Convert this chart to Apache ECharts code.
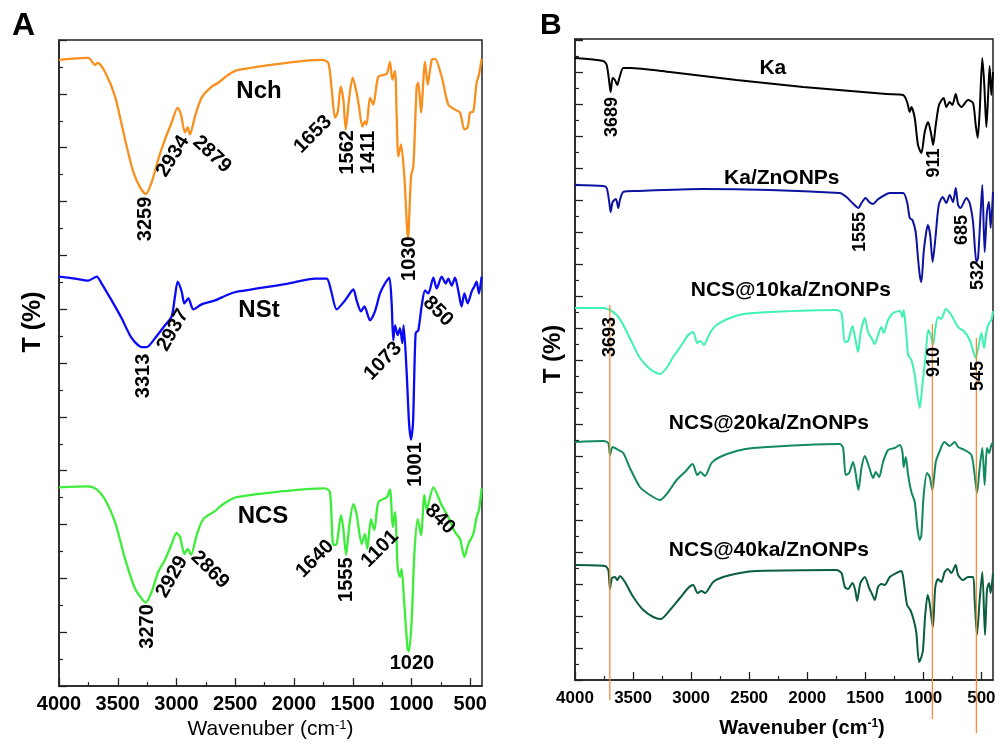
<!DOCTYPE html>
<html>
<head>
<meta charset="utf-8">
<title>FTIR spectra</title>
<script src="https://cdn.jsdelivr.net/npm/echarts@6/dist/echarts.min.js"></script>
<style>
    html, body { margin: 0; padding: 0; background: #fff; }
    #chart { width: 1000px; height: 745px; }
</style>
</head>
<body>
<div id="chart"></div>
<script>
// ---- panel A spectra (wavenumber, transmittance in stacked arbitrary units) ----
var nchWn = [4000,3750,3694,3671,3609,3523,3438,3367,3311,3262,3211,3155,3098,3041,2990,2962,2928,2905,2885,2843,2786,2701,2644,2559,2474,1765,1708,1679,1651,1628,1603,1580,1560,1532,1501,1467,1447,1418,1396,1382,1353,1325,1282,1211,1183,1163,1140,1126,1112,1089,1061,1030,1004,984,956,942,919,885,862,828,800,743,687,630,587,550,522,502,474,446,426,403];
var nchT = [630,632,625,627,618,593,550,517,502,495,507,530,550,567,582,575,557,562,555,573,592,603,607,615,620,630,627,600,572,577,603,590,560,590,612,597,583,563,568,565,592,585,613,616,628,610,619,573,533,545,513,450,513,523,603,607,577,628,605,630,631,613,585,580,577,560,562,577,578,607,615,631];

var nstWn = [4000,3864,3750,3679,3637,3552,3467,3381,3296,3254,3183,3098,3041,3013,2990,2956,2933,2899,2857,2786,2672,2559,2474,2048,1821,1722,1685,1637,1566,1495,1467,1430,1401,1353,1311,1268,1226,1189,1169,1155,1140,1117,1098,1078,1067,1041,1021,1004,987,965,942,914,885,857,814,786,743,709,687,658,630,602,574,550,522,488,465,446,426,403];
var nstT = [412,410,408,412,405,388,370,350,341,341,350,363,372,392,407,397,385,390,379,384,388,394,397,405,410,410,398,379,388,399,388,377,382,368,377,395,405,411,385,348,363,353,360,345,363,315,265,248,265,355,358,382,398,395,411,400,412,405,410,403,411,398,382,395,385,397,402,407,395,412];

var ncsWn = [4000,3750,3679,3609,3523,3438,3353,3296,3262,3211,3155,3098,3041,2999,2970,2933,2905,2877,2828,2772,2672,2616,2488,1736,1694,1665,1637,1600,1580,1557,1529,1495,1467,1424,1396,1376,1345,1316,1282,1211,1183,1160,1140,1117,1098,1084,1061,1033,1021,999,976,948,919,891,871,814,743,687,630,587,550,516,474,446,426,403];
var ncsT = [200,201,198,188,165,128,98,88,84,95,115,127,143,154,150,133,138,132,152,168,176,182,190,199,195,142,143,172,158,132,162,183,173,143,153,138,168,157,185,190,198,160,175,118,110,118,82,37,35,65,132,168,152,192,178,200,182,170,155,148,130,143,153,170,177,199];

// ---- panel B spectra ----
var kaWn = [4000,3756,3727,3705,3693,3676,3656,3636,3618,3584,3527,3182,2609,2035,1318,1174,1140,1117,1103,1074,1046,1017,988,959,931,916,893,865,825,802,773,750,721,701,672,615,572,549,532,515,492,475,457,443,429,414,400];
var kaT = [622,619,615,598,588,602,600,595,602,612,612,608,600,593,586,585,578,568,573,562,535,527,548,558,545,535,555,575,582,573,578,575,586,577,573,580,577,555,542,568,622,595,553,582,614,585,608];

var kaZnWn = [4000,3756,3727,3705,3693,3676,3647,3627,3613,3584,3469,2896,1719,1662,1610,1559,1533,1496,1467,1433,1398,1361,1289,1174,1140,1117,1094,1066,1046,1031,1017,997,975,961,941,920,896,867,833,802,773,744,721,701,680,629,601,572,543,529,509,492,472,452,435,420,400];
var kaZnT = [495,494,492,478,468,478,481,472,480,488,489,491,487,483,477,472,477,482,478,476,480,483,487,487,478,462,460,448,422,405,398,428,448,455,445,418,442,475,483,477,485,478,492,475,472,482,477,458,418,422,462,495,428,468,478,452,488];

var ncs10Wn = [4000,3756,3699,3641,3584,3512,3441,3355,3269,3211,3154,3082,3025,2982,2947,2919,2890,2838,2781,2666,2551,2322,1748,1705,1676,1648,1610,1587,1562,1539,1504,1476,1447,1419,1390,1361,1341,1304,1260,1203,1180,1169,1146,1131,1103,1074,1051,1031,1008,980,957,937,916,896,873,845,807,759,701,644,601,565,549,526,500,477,457,434,414,400];
var ncs10T = [372,372,370,365,355,338,322,311,306,312,323,335,345,348,337,339,335,347,355,362,366,368,370,367,338,339,354,342,328,348,362,348,342,336,345,353,347,360,367,369,363,370,345,325,320,305,285,272,295,325,350,345,335,352,363,361,371,365,353,348,340,327,322,333,347,332,348,357,360,369];

var ncs20Wn = [4000,3756,3713,3699,3676,3627,3584,3527,3441,3355,3269,3197,3125,3053,2987,2947,2919,2881,2824,2752,2609,2465,1719,1691,1668,1639,1605,1585,1559,1533,1504,1467,1433,1410,1381,1347,1304,1246,1203,1180,1169,1151,1131,1103,1074,1051,1031,1017,997,968,945,922,893,862,819,773,730,701,644,586,558,538,515,492,472,452,434,414,400];
var ncs20T = [238,239,237,225,233,230,227,212,193,185,180,188,200,208,216,205,208,204,217,223,229,232,236,232,205,207,218,208,190,212,224,213,202,208,203,218,230,232,235,228,213,223,205,188,178,152,140,145,185,207,203,190,218,228,238,234,238,233,230,225,205,187,212,232,195,232,227,235,238];

var ncs40Wn = [4000,3742,3713,3699,3682,3656,3636,3613,3570,3498,3412,3326,3263,3182,3096,3025,2982,2944,2910,2881,2810,2723,2580,2437,1748,1705,1676,1648,1610,1587,1570,1542,1504,1467,1438,1418,1390,1361,1332,1289,1232,1189,1174,1140,1112,1083,1060,1037,1017,1003,985,963,946,918,897,874,845,816,788,759,721,701,658,615,572,558,538,515,492,469,452,434,420,400];
var ncs40T = [115,114,110,91,102,103,100,104,98,83,70,63,61,70,82,92,95,87,89,87,98,103,107,109,110,107,93,91,97,90,79,97,103,92,85,80,93,96,95,103,107,109,103,75,70,60,47,18,23,30,63,85,77,53,93,101,98,108,111,107,115,105,100,103,103,80,45,80,108,45,90,97,87,107];

// vertical guide lines in panel B (wavenumber, top, bottom)
var guideWn = [3700, 922, 543];
var guideTop = [375, 356, 342];
var guideBottom = [-20, -39, -53];

// axis ticks
var majorTicks = [500, 1000, 1500, 2000, 2500, 3000, 3500, 4000];
var minorTicks = [750, 1250, 1750, 2250, 2750, 3250, 3750];

// annotations: [text, wavenumber, T, rotation]
var peakLabelsA = [
    ['3259', 3260, 470, 90], ['2934', 3030, 533, 58], ['2879', 2698, 535, -43],
    ['1653', 1838, 555, 45], ['1562', 1549, 537, 90], ['1411', 1362, 537, 90],
    ['1030', 1013, 430, 90],
    ['3313', 3277, 312, 90], ['2937', 3030, 358, 60], ['1073', 1243, 327, 46],
    ['1001', 970, 223, 90], ['850', 774, 377, -45],
    ['3270', 3251, 60, 90], ['2929', 3038, 110, 60], ['2869', 2715, 117, -45],
    ['1640', 1821, 128, 45], ['1555', 1557, 107, 90], ['1101', 1268, 138, 45],
    ['1020', 996, 23, 0], ['840', 757, 168, -45]
];
var nameLabelsA = [['Nch', 2298, 598, 0], ['NSt', 2298, 378, 0], ['NCS', 2264, 171, 0]];
var peakLabelsB = [
    ['3689', 3682, 563, 90], ['911', 910, 517, 90], ['1555', 1547, 448, 90],
    ['685', 670, 450, 90], ['532', 532, 405, 90], ['3693', 3699, 343, 90],
    ['910', 910, 318, 90], ['545', 532, 304, 90]
];
var nameLabelsB = [
    ['Ka', 2296, 612, 0], ['Ka/ZnONPs', 2219, 502, 0], ['NCS@10ka/ZnONPs', 2141, 390, 0],
    ['NCS@20ka/ZnONPs', 2330, 257, 0], ['NCS@40ka/ZnONPs', 2330, 130, 0]
];

(function () {
    var font = '"Liberation Sans", Arial, sans-serif';
    var ink = '#000';

    function pairs(wn, t) {
        return wn.map(function (w, i) { return [w, t[i]]; });
    }

    function spectrum(name, wn, t, color, panel) {
        return {
            name: name,
            type: 'line',
            xAxisIndex: panel * 2,
            yAxisIndex: panel,
            data: pairs(wn, t),
            showSymbol: false,
            smooth: 0.25,
            lineStyle: { color: color, width: panel === 0 ? 2.3 : 2 },
            silent: true,
            z: 3
        };
    }

    function labels(items, panel, size) {
        return {
            type: 'scatter',
            xAxisIndex: panel * 2,
            yAxisIndex: panel,
            symbolSize: 1,
            itemStyle: { color: 'rgba(0,0,0,0)', opacity: 1 },
            label: {
                show: true, position: 'inside', formatter: '{b}', opacity: 1,
                fontSize: size, fontWeight: 'bold', fontFamily: font, color: ink
            },
            data: items.map(function (a) {
                return { name: a[0], value: [a[1], a[2]], label: { rotate: a[3] } };
            }),
            silent: true,
            z: 5
        };
    }

    function xAxes(gridIndex, labelSize, margin, nameOpt) {
        var major = {
            type: 'value', gridIndex: gridIndex, position: 'bottom',
            min: 400, max: 4000, inverse: true,
            axisLine: { show: true, lineStyle: { color: '#222', width: 1.5 } },
            axisTick: { show: true, inside: true, length: 8, customValues: majorTicks, lineStyle: { color: '#222', width: 1.3 } },
            axisLabel: {
                show: true, customValues: majorTicks, margin: margin,
                formatter: function (v) { return String(v); },
                fontSize: labelSize, fontWeight: 'bold', fontFamily: font, color: ink
            },
            splitLine: { show: false }
        };
        Object.keys(nameOpt).forEach(function (k) { major[k] = nameOpt[k]; });
        var minor = {
            type: 'value', gridIndex: gridIndex, position: 'bottom',
            min: 400, max: 4000, inverse: true,
            axisLine: { show: false },
            axisTick: { show: true, inside: true, length: 4, customValues: minorTicks, lineStyle: { color: '#222', width: 1.2 } },
            axisLabel: { show: false },
            splitLine: { show: false }
        };
        return [major, minor];
    }

    function yAxis(gridIndex, max, interval) {
        return {
            type: 'value', gridIndex: gridIndex, min: 0, max: max, interval: interval,
            axisLine: { show: true, lineStyle: { color: '#222', width: 1.5 } },
            axisTick: { show: true, inside: true, length: 8, lineStyle: { color: '#222', width: 1.3 } },
            minorTick: { show: true, splitNumber: 2, length: 4, lineStyle: { color: '#222', width: 1.2 } },
            axisLabel: { show: false },
            splitLine: { show: false },
            minorSplitLine: { show: false }
        };
    }

    var chartDom = document.getElementById('chart');
    var myChart = echarts.init(chartDom, null, { renderer: 'canvas' });

    var guideSeries = guideWn.map(function (w, i) {
        return {
            type: 'line', xAxisIndex: 2, yAxisIndex: 1, clip: false,
            data: [[w, guideTop[i]], [w, guideBottom[i]]],
            showSymbol: false, silent: true,
            lineStyle: { color: '#f58a3c', width: 1.3 },
            z: 4
        };
    });

    var option = {
        animation: false,
        backgroundColor: '#fff',
        grid: [
            { left: 59, top: 40, width: 423, height: 650, show: true, borderColor: '#222', borderWidth: 1.5 },
            { left: 575, top: 39, width: 418, height: 641, show: true, borderColor: '#222', borderWidth: 1.5 }
        ],
        xAxis: xAxes(0, 20, 8, {
            name: 'Wavenuber (cm{sup|-1})', nameLocation: 'middle', nameGap: 31,
            nameTextStyle: {
                fontSize: 21, fontFamily: font, color: ink,
                rich: { sup: { fontSize: 13, verticalAlign: 'top', fontFamily: font, color: ink } }
            }
        }).concat(xAxes(1, 17, 10, {
            name: 'Wavenuber (cm{sup|-1})', nameLocation: 'middle', nameGap: 38,
            nameTextStyle: {
                fontSize: 20, fontWeight: 'bold', fontFamily: font, color: ink, padding: [0, 0, 0, 36],
                rich: { sup: { fontSize: 12, fontWeight: 'bold', verticalAlign: 'top', fontFamily: font, color: ink } }
            }
        })),
        yAxis: [yAxis(0, 650, 650 / 12), yAxis(1, 641, 32)],
        graphic: [
            { type: 'text', left: 12, top: 10, style: { text: 'A', font: 'bold 32px ' + font, fill: ink } },
            { type: 'text', left: 540, top: 11, style: { text: 'B', font: 'bold 30px ' + font, fill: ink } },
            { type: 'text', x: 33, y: 322, rotation: Math.PI / 2,
              style: { text: 'T (%)', font: 'bold 25px ' + font, fill: ink, align: 'center', verticalAlign: 'middle' } },
            { type: 'text', x: 553, y: 354, rotation: Math.PI / 2,
              style: { text: 'T (%)', font: 'bold 24px ' + font, fill: ink, align: 'center', verticalAlign: 'middle' } }
        ],
        series: [
            spectrum('Nch', nchWn, nchT, '#f7901e', 0),
            spectrum('NSt', nstWn, nstT, '#0a0af5', 0),
            spectrum('NCS', ncsWn, ncsT, '#3ded3a', 0),
            spectrum('Ka', kaWn, kaT, '#000000', 1),
            spectrum('Ka/ZnONPs', kaZnWn, kaZnT, '#0d139e', 1),
            spectrum('NCS@10ka/ZnONPs', ncs10Wn, ncs10T, '#3ff2b2', 1),
            spectrum('NCS@20ka/ZnONPs', ncs20Wn, ncs20T, '#138a5d', 1),
            spectrum('NCS@40ka/ZnONPs', ncs40Wn, ncs40T, '#0b5e3d', 1),
            labels(peakLabelsA, 0, 20),
            labels(nameLabelsA, 0, 24),
            labels(peakLabelsB, 1, 18),
            labels(nameLabelsB, 1, 21)
        ].concat(guideSeries)
    };

    option && myChart.setOption(option);
})();
</script>
</body>
</html>
